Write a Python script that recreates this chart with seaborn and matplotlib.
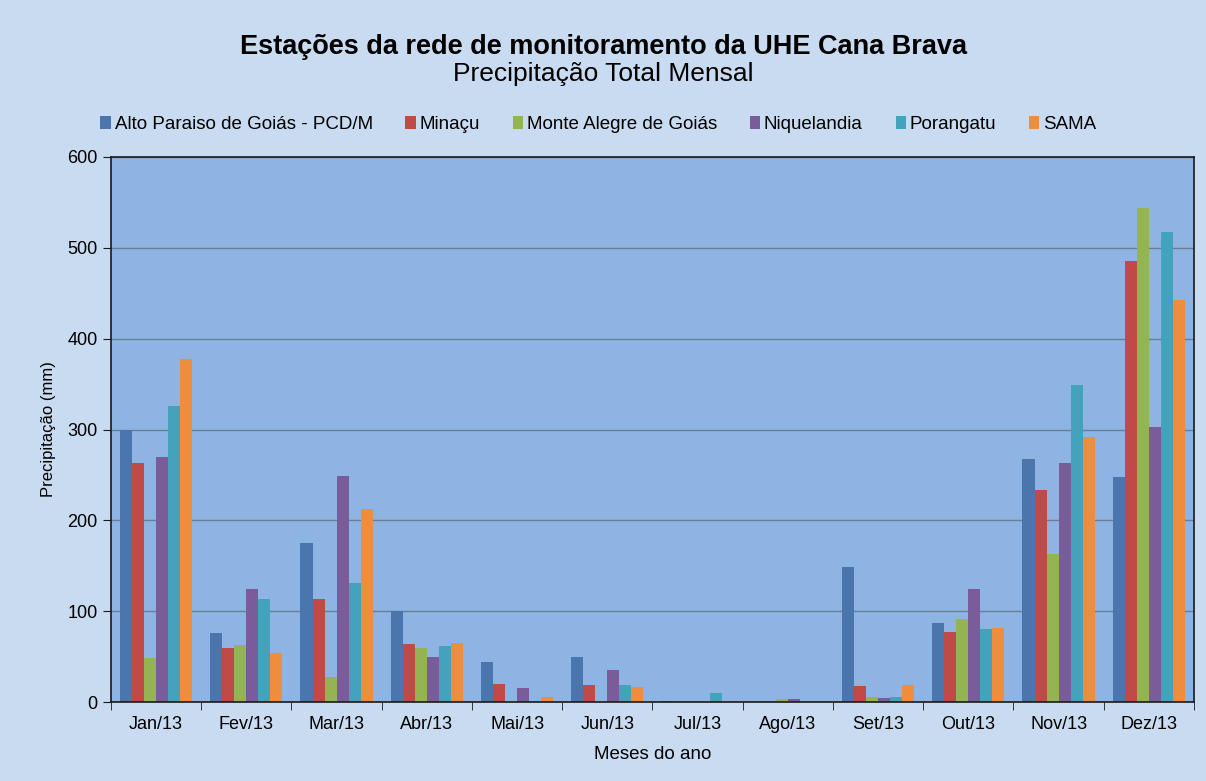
import pandas as pd
import matplotlib.pyplot as plt
import numpy as np
import seaborn as sns

# %%
meses = ['Jan/13', 'Fev/13', 'Mar/13', 'Abr/13', 'Mai/13', 'Jun/13',
         'Jul/13', 'Ago/13', 'Set/13', 'Out/13', 'Nov/13', 'Dez/13']

alto_paraiso = [300, 76, 175, 100, 44, 50, 1, 0, 149, 87, 268, 248]
minacu = [263, 60, 114, 64, 20, 19, 0, 0, 18, 77, 233, 486]
monte_alegre = [49, 63, 28, 60, 1, 0, 0, 3, 6, 91, 163, 544]
niquelandia = [270, 125, 249, 50, 15, 35, 0, 3, 5, 125, 263, 303]
porangatu = [326, 113, 131, 62, 1, 19, 10, 0, 6, 81, 349, 517]
sama = [378, 54, 213, 65, 6, 17, 0, 0, 19, 82, 292, 443]

estacoes = ['Alto Paraiso de Goiás - PCD/M', 'Minaçu', 'Monte Alegre de Goiás',
            'Niquelandia', 'Porangatu', 'SAMA']
cores = ['#4a76ad', '#be4b48', '#94b454', '#7a5c9b', '#43a3bd', '#ef8d3e']

# %%
df = pd.DataFrame({'mes': meses,
                   estacoes[0]: alto_paraiso,
                   estacoes[1]: minacu,
                   estacoes[2]: monte_alegre,
                   estacoes[3]: niquelandia,
                   estacoes[4]: porangatu,
                   estacoes[5]: sama})
df_long = df.melt(id_vars='mes', var_name='estacao', value_name='precip')

# %%
plt.rcParams['font.family'] = ['Liberation Sans', 'DejaVu Sans']

fig = plt.figure(figsize=(12.06, 7.81), dpi=100, facecolor='#c9dbf0')
ax = fig.add_axes([0.092, 0.101, 0.898, 0.698])
ax.set_facecolor('#8db4e3')

sns.barplot(data=df_long, x='mes', y='precip', hue='estacao',
            hue_order=estacoes, palette=cores, width=0.8,
            saturation=1, edgecolor='none', ax=ax)

ax.set_ylim(0, 600)
ax.set_xlim(-0.5, 11.5)
ax.set_yticks(range(0, 601, 100))
ax.yaxis.grid(True, color='#6d7d94', linewidth=1)
ax.set_axisbelow(True)
for s in ax.spines.values():
    s.set_color('#1a1a1a')
    s.set_linewidth(1.2)

# marcas do eixo x entre as categorias
ax.set_xticks(np.arange(-0.5, 12, 1), minor=True)
ax.tick_params(axis='x', which='minor', length=6, color='#1a1a1a', direction='out')
ax.tick_params(axis='x', which='major', length=0, labelsize=13, pad=10)
ax.tick_params(axis='y', length=6, color='#1a1a1a', labelsize=13)

ax.set_xlabel('Meses do ano', fontsize=13.5, labelpad=9)
ax.set_ylabel('Precipitação (mm)', fontsize=12, labelpad=8)

ax.legend(loc='lower center', bbox_to_anchor=(0.45, 1.013), ncol=6,
          frameon=False, fontsize=13.5, handlelength=0.55, handleheight=0.7,
          handletextpad=0.2, columnspacing=1.75)

fig.text(0.5, 1 - 54 / 781, 'Estações da rede de monitoramento da UHE Cana Brava',
         ha='center', va='baseline', fontsize=19.5, fontweight='bold')
fig.text(0.5, 1 - 81 / 781, 'Precipitação Total Mensal',
         ha='center', va='baseline', fontsize=19)

plt.savefig('out.png', dpi=100, facecolor=fig.get_facecolor())
